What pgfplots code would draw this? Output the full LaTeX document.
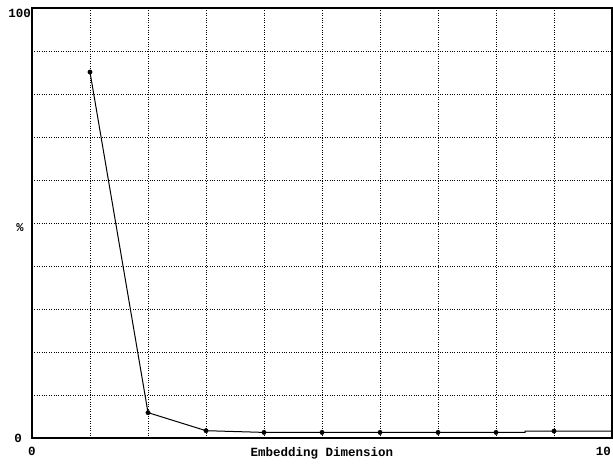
\documentclass[border=0pt]{standalone}
\usepackage{fontspec}
\setmainfont{Liberation Mono}
\usepackage{pgfplots}
\pgfplotsset{compat=1.18}

\begin{document}
\begin{tikzpicture}
  % page = 613 x 465, axis box 580 x 430 placed at (32,27) from bottom left
  \useasboundingbox (-32pt,-27pt) rectangle (581pt,438pt);
  \begin{axis}[
    at={(0,0)}, anchor=south west,
    width=580pt, height=430pt,
    scale only axis,
    xmin=0, xmax=10,
    ymin=0, ymax=100,
    axis line style={black, line width=1.3pt},
    grid=major,
    major grid style={black, dotted, line width=0.8pt},
    major tick length=0pt,
    xtick={0,1,...,9},
    xticklabels={0,,,,,,,,,},
    extra x ticks={10},
    extra x tick labels={10},
    extra x tick style={xticklabel style={anchor=north east, xshift=1pt}},
    ytick={10,20,...,100},
    yticklabels={,,,,,,,,,100},
    extra y ticks={0},
    extra y tick labels={0},
    extra y tick style={yticklabel style={xshift=-9pt, yshift=5pt}},
    ticklabel style={font=\fontsize{12.5}{13}\selectfont\bfseries},
    xticklabel style={anchor=north, yshift=-7pt, inner sep=2pt},
    yticklabel style={anchor=east, inner sep=0pt, xshift=-1pt, yshift=-5pt},
    xlabel={Embedding Dimension},
    xlabel style={font=\fontsize{12.5}{13}\selectfont\bfseries,
      at={(axis description cs:0.5,0)}, anchor=north, yshift=-7pt, inner sep=2pt},
    ylabel={\%},
    ylabel style={font=\fontsize{12}{13}\selectfont\bfseries, rotate=-90,
      at={(axis description cs:0,0.5)}, anchor=center, xshift=-12pt, yshift=-5pt},
  ]
    % curve
    \addplot[black, line width=1pt] coordinates {
      (1,85.1) (2,5.9) (3,1.7) (4,1.3) (5,1.3) (6,1.3) (7,1.3) (8,1.3)
      (8.5,1.3) (8.5,1.6) (9,1.6) (10,1.6)
    };
    % points
    \addplot[only marks, mark=*, mark size=2.2pt, black] coordinates {
      (1,85.1) (2,5.9) (3,1.7) (4,1.3) (5,1.3) (6,1.3) (7,1.3) (8,1.3) (9,1.6)
    };
  \end{axis}
\end{tikzpicture}
\end{document}
